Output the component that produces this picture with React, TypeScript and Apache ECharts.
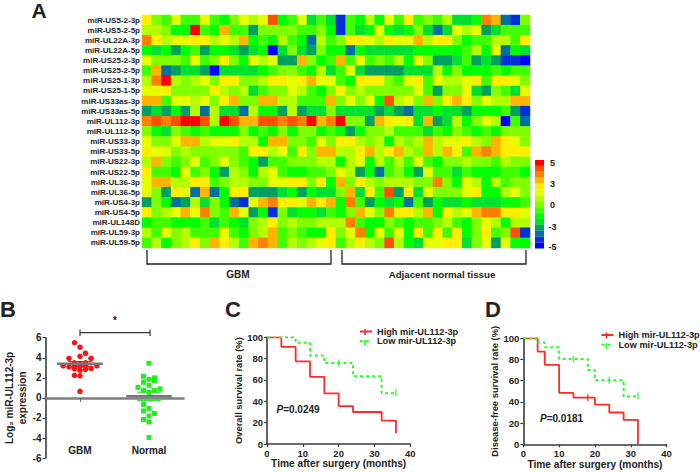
import React, { useEffect, useRef } from "react";
import * as echarts from "echarts";

const FONT = '"Liberation Sans", Arial, sans-serif';
const INK = "#222222";

const miRNAs = ["miR-US5-2-3p","miR-US5-2-5p","miR-UL22A-3p","miR-UL22A-5p","miR-US25-2-3p","miR-US25-2-5p","miR-US25-1-3p","miR-US25-1-5p","miR-US33as-3p","miR-US33as-5p","miR-UL112-3p","miR-UL112-5p","miR-US33-3p","miR-US33-5p","miR-US22-3p","miR-US22-5p","miR-UL36-3p","miR-UL36-5p","miR-US4-3p","miR-US4-5p","miR-UL148D","miR-UL59-3p","miR-UL59-5p"];
const samples = Array.from({ length: 40 }, (_, i) => "S" + (i + 1));

// Expression, as colour-bin levels from -7 (value -5) to 7 (value 5).
const r00 = [3,0,-1,2,-1,-1,2,-1,-2,0,2,1,2,6,-2,-1,2,-3,-1,-3,-6,-1,-2,1,-2,2,-1,3,-1,0,-1,1,-3,-3,-2,5,4,-5,-6,0];
const r01 = [1,1,0,-2,-2,7,-1,-2,4,-1,-1,-4,0,0,0,0,-1,-1,0,-2,-6,-1,-3,-2,2,-2,-3,-2,0,-3,-5,-3,2,1,2,-4,-3,-1,-1,-1];
const r02 = [5,3,1,2,2,3,3,1,2,1,4,-2,-1,-2,1,-1,-2,-5,1,-1,0,3,3,2,1,3,2,2,4,1,3,3,0,-2,-1,-1,1,1,-1,3];
const r03 = [-2,-3,-2,-4,-2,-1,-4,-2,-2,-3,-4,-3,-2,-7,-3,0,-3,-4,0,-2,-2,-5,-2,-3,-3,-3,-3,-3,-2,-2,-2,-2,-2,-1,1,-2,2,-5,-2,-3];
const r04 = [2,0,0,0,-1,2,-1,0,3,0,-2,2,1,2,-4,-4,4,0,-2,-1,4,-1,2,-1,0,-1,1,-2,2,0,-4,-4,-3,-1,-4,-3,-4,-6,-6,-7];
const r05 = [-1,4,-5,-4,-3,-3,-4,-7,-3,-3,-3,-3,-2,-1,0,0,-1,-2,1,-3,-1,2,-3,-4,-4,-4,-4,-3,-3,-3,1,-2,0,-2,-2,-2,-1,-2,-1,-1];
const r06 = [1,5,7,1,0,1,2,0,3,3,0,0,1,3,3,2,3,4,2,2,-1,-2,3,3,3,0,-1,2,3,-1,2,1,1,2,3,-1,3,3,2,0];
const r07 = [2,2,3,0,0,0,0,3,1,0,1,-3,-1,0,0,2,1,-1,-2,0,3,0,1,0,0,0,0,0,2,-1,-4,0,0,2,-3,-4,0,-1,-3,2];
const r08 = [4,4,-1,2,2,1,2,0,3,4,0,0,4,4,1,1,-1,-1,-1,4,0,2,0,2,-2,6,1,2,0,4,0,3,4,3,0,2,1,1,4,4];
const r09 = [-4,-3,-4,-2,-4,1,-5,1,-3,-3,-5,1,-2,-2,-4,1,-4,-3,-3,0,-3,-3,-3,-3,-4,-3,-4,-5,-3,-3,-2,-3,-3,-4,-2,-2,-2,-1,-4,-6];
const r10 = [5,6,5,6,7,7,6,1,7,6,4,4,6,6,5,6,5,7,4,5,7,0,0,-4,4,3,2,3,-3,4,-4,-3,1,-2,0,2,1,-7,-1,-5];
const r11 = [0,-2,-3,0,-1,-2,-1,-2,-2,-2,0,-2,-1,-2,0,-2,0,0,-2,-1,-2,-4,-2,0,0,1,-1,-1,-1,-3,-1,-2,0,-1,-2,-1,-2,0,0,0];
const r12 = [2,0,0,2,4,4,1,2,2,3,1,1,-2,4,4,0,0,-1,2,0,3,3,1,0,1,-2,1,0,1,4,1,2,2,3,1,0,4,3,2,0];
const r13 = [3,2,2,0,1,0,0,0,0,0,-1,3,3,1,2,-1,3,0,4,4,1,1,3,4,1,3,4,1,0,4,1,4,3,-1,4,5,4,3,3,3];
const r14 = [1,4,0,-1,0,2,-1,0,2,0,-1,-2,-4,-1,-1,0,0,0,1,1,-2,1,2,-2,1,-1,1,-1,2,-1,-2,0,0,1,0,0,-1,1,0,0];
const r15 = [3,-1,-1,-2,2,-1,0,-2,-4,1,0,-2,1,2,-1,-2,-2,-1,-1,0,2,1,-4,-2,-5,-1,0,-2,-4,2,-1,-1,-3,-1,-2,-2,-2,-1,-1,-2];
const r16 = [2,4,4,1,1,3,3,-1,0,1,1,0,0,2,2,3,3,0,3,-2,4,0,3,1,0,1,1,1,0,0,5,0,-2,2,1,-2,1,-1,0,0];
const r17 = [2,0,-4,3,2,-5,4,-5,-2,3,3,-4,-4,-4,-3,-2,-4,-2,-3,-3,0,4,-3,3,-1,6,-4,3,-3,2,0,0,0,2,3,-2,-2,1,2,0];
const r18 = [-4,0,-2,-5,-4,1,-3,0,-2,-5,-6,2,4,5,3,3,2,4,3,4,-2,5,-1,-4,-2,-3,-2,-5,-1,-4,-2,-3,-3,-2,-3,-3,-3,-2,-2,-1];
const r19 = [3,0,1,2,4,2,5,0,-1,4,2,-4,-2,-6,0,-3,-2,-2,-3,-1,-2,0,4,2,0,5,3,3,1,4,-2,3,1,2,4,5,5,3,3,2];
const r20 = [-2,-1,-1,-2,-2,-2,-1,-3,-1,-2,-3,0,1,3,0,1,0,0,1,1,1,5,-1,-2,-2,0,-1,-2,-1,-1,0,1,-1,-2,0,2,1,-2,1,1];
const r21 = [1,-1,2,0,1,-1,-1,-1,2,-1,-2,0,1,4,-1,0,-1,-2,-2,3,0,2,5,-2,2,-1,2,-2,3,-1,3,-1,3,-2,0,3,-1,0,6,-6];
const r22 = [-1,1,-2,0,1,3,0,4,3,1,-1,4,5,4,-1,1,0,1,2,3,-1,1,3,1,0,6,1,-2,-3,2,2,3,3,-3,0,2,-4,2,-2,-2];
const heatRows = [r00,r01,r02,r03,r04,r05,r06,r07,r08,r09,r10,r11,r12,r13,r14,r15,r16,r17,r18,r19,r20,r21,r22];

const binColors = ["#0000ff","#0030d8","#0070a0","#00a060","#00e030","#00ff00","#40ff00","#80ff00","#b4ff00","#e6ff00","#ffee00","#ffb400","#ff8000","#ff5000","#ff0000"];
const scaleLabels = ["5","3","0","-3","-5"];

// Panel B: [x offset inside the group, log2 expression]
const gbmPoints = [[-0.08,5.5],[0,5.05],[0.08,4.45],[0,4.15],[-0.16,3.95],[0.16,3.95],[-0.08,3.5],[0.08,3.5],[0,3.35],[-0.245,3.2],[-0.16,3.1],[0.245,3.2],[-0.08,2.9],[0,2.75],[0.08,2.85],[0.16,2.95],[-0.08,3.3],[0.08,3.2],[0,3.1],[-0.08,2.25],[0,2.2],[0,0.65]];
const normalPoints = [[0,3.45],[-0.08,2.15],[0.08,2.0],[0,1.85],[-0.08,1.55],[0.08,1.7],[0.08,1.9],[0,1.25],[-0.16,1.05],[0.16,0.9],[-0.08,0.75],[0.08,0.75],[0,0.55],[-0.08,-0.65],[0,-1.05],[0.08,-1.55],[-0.08,-1.3],[0,-1.8],[-0.08,-2.15],[0,-2.4],[0,-3.95]];
const gbmStats = { mean: 3.4, upper: 3.62, lower: 3.15 };
const normalStats = { mean: 0.17, upper: 0.58, lower: -0.25 };
const groupNames = ["GBM", "Normal"];

// Panels C, D: [month, survival %] at each drop
const highC = [[0,100],[4,91],[8,77.5],[12,63],[16,47.5],[20,35.5],[24,30],[32,22],[36,10]];
const lowC = [[0,100],[4,100],[8,95],[12,83],[16,76],[24,63.5],[32,47.5],[36,47.5]];
const lowCCensored = [[4,100.5],[20,76],[36,48.5]];
const highD = [[0,100],[4,87.5],[6,75],[10,48.5],[14,44],[20,37.5],[24,30],[28,23],[32,0]];
const lowD = [[0,100],[4,96],[6,91.5],[10,80.5],[18,70],[20,60.5],[28,45],[32,45]];
const highDCensored = [[18,44]];
const lowDCensored = [[14,80.5],[24,60.5],[32,45.5]];

const HIGH = "High mir-UL112-3p";
const LOW = "Low mir-UL112-3p";
const RED = "#ff2a2a";
const GREEN = "#22ff22";

function axisBase() {
  return {
    axisLine: { show: true, onZero: false, lineStyle: { color: "#3c3c3c", width: 1.6 } },
    axisTick: { show: true, length: 3, lineStyle: { color: "#3c3c3c", width: 1.2 } },
    axisLabel: { fontFamily: FONT, fontWeight: "bold" as const, fontSize: 9.5, color: INK, margin: 4 },
    splitLine: { show: false },
  };
}
const xName = { fontFamily: FONT, fontWeight: "bold" as const, fontSize: 10.2, color: INK };
const yName = { fontFamily: FONT, fontWeight: "bold" as const, fontSize: 9.4, color: INK };

function stepSeries(name: string, data: number[][], gi: number, color: string, dashed: boolean) {
  return {
    type: "line", name, data, xAxisIndex: gi, yAxisIndex: gi, step: "end", showSymbol: false,
    symbol: "none", silent: true,
    lineStyle: { color, width: dashed ? 2 : 1.8, type: dashed ? [3, 3] : "solid" },
    itemStyle: { color },
    z: dashed ? 4 : 3,
  };
}

function censorSeries(data: number[][], gi: number, color: string) {
  return {
    type: "scatter", data, xAxisIndex: gi, yAxisIndex: gi, symbol: "rect", symbolSize: [1.6, 7],
    itemStyle: { color }, silent: true, z: 5,
  };
}

function statLine(data: number[][], color: string, width: number, z = 6) {
  return {
    type: "line", data, xAxisIndex: 1, yAxisIndex: 1, showSymbol: false, symbol: "none", silent: true,
    lineStyle: { color, width }, z,
  };
}

function txt(text: string, x: number, y: number, size: number, extra: any = {}) {
  return {
    type: "text", x, y, silent: true,
    style: { text, fontFamily: FONT, fontWeight: "bold", fontSize: size, fill: INK, align: "center", verticalAlign: "middle", ...extra },
  };
}

function bracket(x0: number, x1: number, y0: number, y1: number) {
  return {
    type: "polyline", silent: true,
    shape: { points: [[x0, y0], [x0, y1], [x1, y1], [x1, y0]] },
    style: { stroke: "#222222", lineWidth: 1.3, fill: "none" },
  };
}

function pValue(value: string, x: number, y: number) {
  return {
    type: "text", x, y, silent: true,
    style: {
      text: "{i|P}{b|=" + value + "}", align: "left", verticalAlign: "middle",
      rich: {
        i: { fontFamily: FONT, fontStyle: "italic", fontWeight: "bold", fontSize: 10, fill: INK },
        b: { fontFamily: FONT, fontWeight: "bold", fontSize: 10, fill: INK },
      },
    },
  };
}

function buildOption() {
  const heat: number[][] = [];
  heatRows.forEach((row, y) => row.forEach((lv, x) => heat.push([x, y, (lv * 5) / 7])));
  const pieces = binColors.map((color, i) => ({ min: -5 - 5 / 14 + (i * 5) / 7, max: -5 + 5 / 14 + (i * 5) / 7, color }));
  const scaleY = [163, 183.5, 204.5, 226.5, 247];

  const gbm = gbmPoints.map(([dx, v]) => [0.5 + dx, v]);
  const normal = normalPoints.map(([dx, v]) => [1.5 + dx, v]);
  const span = (c: number, w: number, v: number) => [[c - w, v], [c + w, v]];

  return {
    animation: false,
    backgroundColor: "#ffffff",
    textStyle: { fontFamily: FONT },
    grid: [
      { left: 142, top: 15, width: 388, height: 233, outerBoundsMode: "none" },
      { left: 45.5, top: 337.7, width: 138, height: 120.4, outerBoundsMode: "none" },
      { left: 267, top: 337.3, width: 143.3, height: 106.7, outerBoundsMode: "none" },
      { left: 523.3, top: 338.3, width: 143.3, height: 106, outerBoundsMode: "none" },
    ],
    xAxis: [
      { type: "category", gridIndex: 0, data: samples, axisLine: { show: false }, axisTick: { show: false }, axisLabel: { show: false }, splitLine: { show: false } },
      {
        type: "value", gridIndex: 1, min: 0, max: 2, interval: 0.5,
        axisLine: { show: true, onZero: true, lineStyle: { color: "#808080", width: 2.6 } },
        axisTick: { show: true, length: 4, customValues: [0.5], lineStyle: { color: "#666666", width: 1 } },
        axisLabel: {
          show: true, customValues: [0.5, 1.5], margin: -13, fontFamily: FONT, fontWeight: "bold", fontSize: 10, color: INK,
          formatter: (v: number) => (v < 1 ? groupNames[0] : groupNames[1]),
        },
        splitLine: { show: false },
      },
      { ...axisBase(), type: "value", gridIndex: 2, min: 0, max: 40, interval: 10, name: "Time after surgery (months)", nameLocation: "middle", nameGap: 14, nameTextStyle: xName },
      { ...axisBase(), type: "value", gridIndex: 3, min: 0, max: 40, interval: 10, name: "Time after surgery (months)", nameLocation: "middle", nameGap: 14, nameTextStyle: xName },
    ],
    yAxis: [
      {
        type: "category", gridIndex: 0, data: miRNAs, inverse: true, axisLine: { show: false }, axisTick: { show: false },
        axisLabel: { fontFamily: FONT, fontWeight: "bold", fontSize: 8, color: INK, margin: 2, interval: 0 }, splitLine: { show: false },
      },
      {
        ...axisBase(), type: "value", gridIndex: 1, min: -6, max: 6, interval: 2,
        axisLabel: { fontFamily: FONT, fontWeight: "bold", fontSize: 10, color: INK, margin: 4 },
        name: "Log\u2082 miR-UL112-3p\nexpression", nameLocation: "middle", nameRotate: 90, nameGap: 16,
        nameTextStyle: { fontFamily: FONT, fontWeight: "bold", fontSize: 10, color: INK, lineHeight: 13 },
      },
      { ...axisBase(), type: "value", gridIndex: 2, min: 0, max: 100, interval: 20, name: "Overall survival rate (%)", nameLocation: "middle", nameGap: 24, nameTextStyle: yName },
      { ...axisBase(), type: "value", gridIndex: 3, min: 0, max: 100, interval: 20, name: "Disease-free survival rate (%)", nameLocation: "middle", nameGap: 24, nameTextStyle: yName },
    ],
    visualMap: {
      type: "piecewise", seriesIndex: 0, pieces, orient: "vertical", left: 535, top: 160,
      itemWidth: 9, itemHeight: 5.9, itemGap: 0, itemSymbol: "rect", showLabel: false, selectedMode: false, padding: 0, align: "left", textGap: 0,
      textStyle: { fontSize: 1 },
    },
    legend: [
      {
        data: [HIGH, LOW], orient: "vertical", left: 359, top: 327, itemWidth: 12, itemHeight: 10, itemGap: 0.7, selectedMode: false, padding: 0,
        itemStyle: { opacity: 0 },
        textStyle: { fontFamily: FONT, fontWeight: "bold", fontSize: 9.2, color: INK },
      },
      {
        data: [HIGH, LOW], orient: "vertical", left: 600.5, top: 330.5, itemWidth: 12, itemHeight: 10, itemGap: 0.7, selectedMode: false, padding: 0,
        itemStyle: { opacity: 0 },
        textStyle: { fontFamily: FONT, fontWeight: "bold", fontSize: 9.2, color: INK },
      },
    ],
    graphic: [
      txt("A", 39, 10.5, 21),
      txt("B", 8, 309, 22),
      txt("C", 233, 309, 22),
      txt("D", 493, 309, 22),
      bracket(147, 331, 250, 264),
      bracket(342, 526, 250, 264),
      txt("GBM", 238, 274.5, 10),
      txt("Adjacent normal tissue", 442, 274.5, 9.7),
      ...scaleLabels.map((t, i) => txt(t, 552.5, scaleY[i], 9)),
      { type: "polyline", silent: true, shape: { points: [[80, 329.5], [80, 336], [80, 332.7], [150, 332.7], [150, 329.5], [150, 336]] }, style: { stroke: "#333333", lineWidth: 1.2, fill: "none" } },
      txt("*", 115, 320, 10),
      pValue("0.0249", 276.5, 409),
      pValue("0.0181", 540, 418),
      { type: "rect", silent: true, shape: { x: 364.2, y: 329, width: 1.6, height: 6 }, style: { fill: RED } },
      { type: "rect", silent: true, shape: { x: 364.2, y: 339.7, width: 1.6, height: 6 }, style: { fill: GREEN } },
      { type: "rect", silent: true, shape: { x: 605.7, y: 332.5, width: 1.6, height: 6 }, style: { fill: RED } },
      { type: "rect", silent: true, shape: { x: 605.7, y: 343.2, width: 1.6, height: 6 }, style: { fill: GREEN } },
    ],
    series: [
      { type: "heatmap", data: heat, xAxisIndex: 0, yAxisIndex: 0, silent: true, itemStyle: { borderWidth: 0 }, progressive: 0 },
      { type: "scatter", data: gbm, xAxisIndex: 1, yAxisIndex: 1, symbol: "circle", symbolSize: 5.5, itemStyle: { color: "#ff1010", opacity: 1 }, silent: true, z: 3 },
      { type: "scatter", data: normal, xAxisIndex: 1, yAxisIndex: 1, symbol: "rect", symbolSize: 5, itemStyle: { color: "#22ee22", opacity: 1 }, silent: true, z: 3 },
      statLine(span(0.5, 0.33, gbmStats.mean), "#777777", 2.4),
      statLine(span(0.5, 0.17, gbmStats.upper), "#ff1010", 1.2, 5),
      statLine(span(0.5, 0.17, gbmStats.lower), "#ff1010", 1.2, 5),
      statLine([[0.5, gbmStats.lower], [0.5, gbmStats.upper]], "#ff1010", 1.2, 5),
      statLine(span(1.5, 0.33, normalStats.mean), "#777777", 2.4),
      statLine(span(1.5, 0.17, normalStats.upper), "#22ee22", 1.2, 5),
      statLine(span(1.5, 0.17, normalStats.lower), "#22ee22", 1.2, 5),
      statLine([[1.5, normalStats.lower], [1.5, normalStats.upper]], "#22ee22", 1.2, 5),
      stepSeries(HIGH, highC, 2, RED, false),
      stepSeries(LOW, lowC, 2, GREEN, true),
      censorSeries(lowCCensored, 2, GREEN),
      stepSeries(HIGH, highD, 3, RED, false),
      stepSeries(LOW, lowD, 3, GREEN, true),
      censorSeries(highDCensored, 3, RED),
      censorSeries(lowDCensored, 3, GREEN),
    ],
  };
}

export default function App() {
  const ref = useRef<HTMLDivElement>(null);
  useEffect(() => {
    document.body.style.margin = "0";
    const chart = echarts.init(ref.current as HTMLDivElement, undefined, { renderer: "svg" });
    chart.setOption(buildOption() as any);
    return () => chart.dispose();
  }, []);
  return <div ref={ref} style={{ width: 700, height: 472 }} />;
}
